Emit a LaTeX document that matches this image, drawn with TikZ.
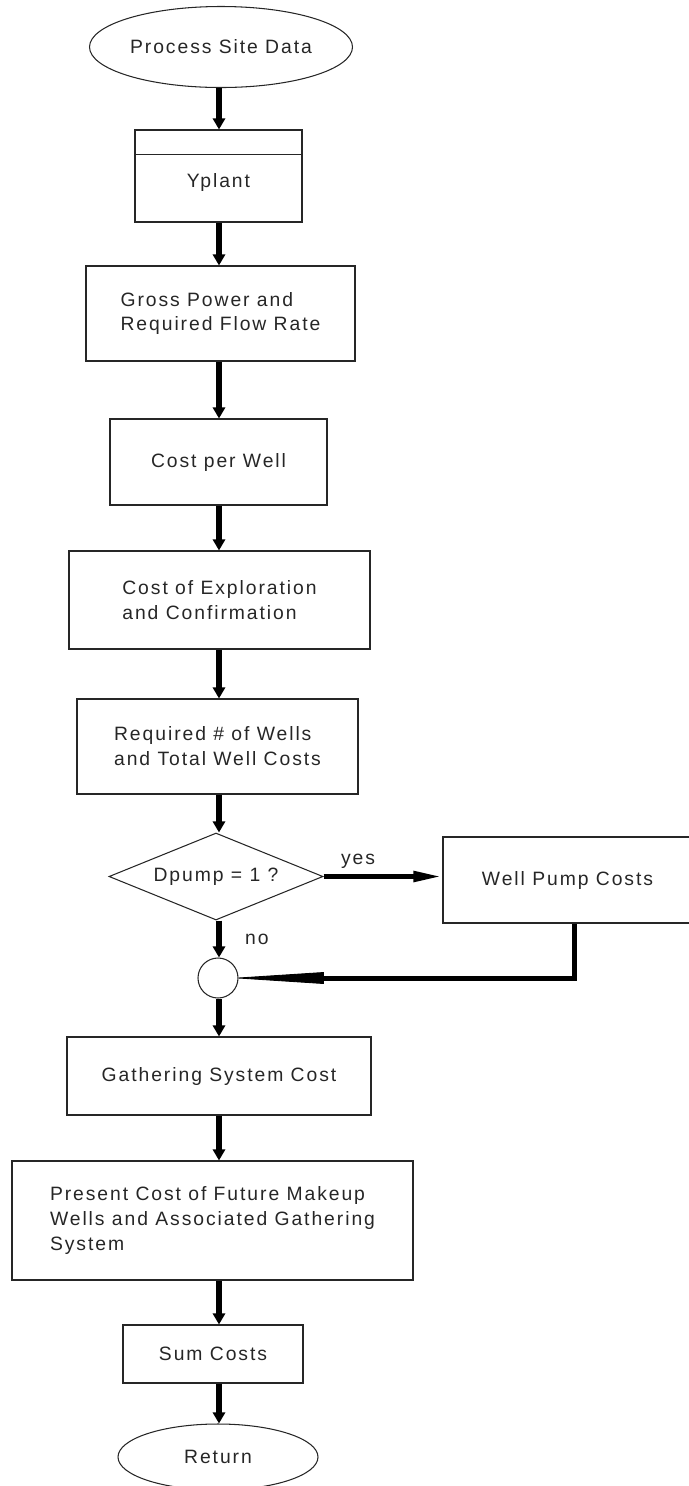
\documentclass[tikz,border=0pt]{standalone}
\usepackage{fontspec}
\setmainfont{Liberation Sans}[LetterSpace=10]
\usetikzlibrary{shapes.geometric,arrows.meta}

\begin{document}
\begin{tikzpicture}[
    font=\fontsize{11}{14.2}\selectfont, text=black!85,
    box/.style={draw=black!85, line width=0.6pt, inner sep=0pt, align=center},
    terminal/.style={box, ellipse},
    decision/.style={box, diamond, aspect=2.46},
    flow/.style={line width=0.11cm, -{Triangle[length=0.22cm,width=0.24cm]}}
]
    % Page frame
    \useasboundingbox (0,0) rectangle (13.78,-29.72);
    \coordinate (spine) at (4.38,0);

    % Main column
    \node[terminal, minimum width=5.26cm, minimum height=1.62cm] (start) at (4.42,-0.94) {Process Site Data};
    \node[box, minimum width=3.34cm, minimum height=1.84cm] (yplant) at (4.37,-3.52) {};
    \draw[black!85, line width=0.6pt] ([yshift=-0.5cm]yplant.north west) -- ([yshift=-0.5cm]yplant.north east);
    \node (yplantlbl) at (4.37,-3.64) {Yplant};
    \node[box, minimum width=5.38cm, minimum height=1.9cm, align=left] (gross) at (4.41,-6.27) {Gross Power and\\Required Flow Rate};
    \node[box, minimum width=4.34cm, minimum height=1.72cm] (cpw) at (4.37,-9.24) {Cost per Well};
    \node[box, minimum width=6.02cm, minimum height=1.96cm, align=left] (explore) at (4.39,-12.0) {Cost of Exploration\\and Confirmation};
    \node[box, minimum width=5.62cm, minimum height=1.9cm, align=left] (nwells) at (4.35,-14.93) {Required \# of Wells\\and Total Well Costs};
    \node[decision, minimum width=4.28cm, minimum height=1.74cm] (dpump) at (4.32,-17.53) {Dpump = 1 ?};
    \node[box, circle, minimum size=0.8cm] (join) at (4.36,-19.56) {};
    \node[box, minimum width=6.08cm, minimum height=1.56cm] (gather) at (4.38,-21.52) {Gathering System Cost};
    \node[box, minimum width=8.02cm, minimum height=2.38cm, align=left] (makeup) at (4.25,-24.41) {Present Cost of Future Makeup\\Wells and Associated Gathering\\System};
    \node[box, minimum width=3.6cm, minimum height=1.16cm] (sumc) at (4.26,-27.08) {Sum Costs};
    \node[terminal, minimum width=4cm, minimum height=1.32cm] (ret) at (4.36,-29.14) {Return};

    % Side branch
    \node[box, minimum width=4.98cm, minimum height=1.72cm] (pump) at (11.35,-17.6) {Well Pump Costs};

    % Connectors
    \foreach \a/\b in {start/yplant, yplant/gross, gross/cpw, cpw/explore, explore/nwells, nwells/dpump, join/gather, gather/makeup, makeup/sumc, sumc/ret}
        \draw[flow] (\a.south -| spine) -- (\b.north -| spine);
    \draw[flow] (dpump.south -| spine) -- node (no) [right, xshift=0.35cm] {no} (join.north -| spine);
    \draw[line width=0.1cm, -{Triangle[length=0.58cm,width=0.2cm]}] (dpump.east) -- node (yes) [above, pos=0.29] {yes} (dpump.east -| pump.west);
    % return line with its long wedge
    \draw[line width=0.1cm] ([xshift=0.13cm]pump.south) |- ([xshift=1.7cm]join.east) coordinate (wedge);
    \fill[draw, line width=0.5pt] (join.east) -- ([yshift=0.11cm]wedge) -- ([yshift=-0.11cm]wedge) -- cycle;
\end{tikzpicture}
\end{document}
